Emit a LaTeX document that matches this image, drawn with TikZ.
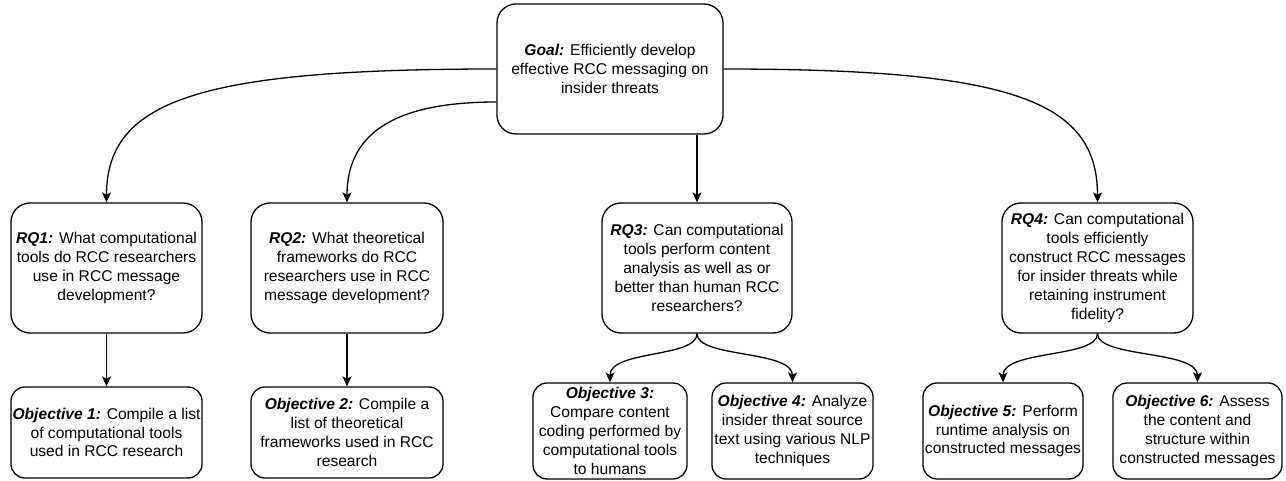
\documentclass[tikz,border=0pt]{standalone}
\usepackage{fontspec}
\setmainfont{Liberation Sans}
\usetikzlibrary{arrows.meta,calc}

% bold italic lead-in word without italic correction
\newcommand{\lbl}[1]{{\bfseries\itshape #1}}

\begin{document}
\begin{tikzpicture}[x=1pt,y=-1pt,
  box/.style={draw, line width=1.3pt, rounded corners=19pt, align=center,
    inner sep=0pt, font=\fontsize{15.6pt}{18.9pt}\selectfont,
    minimum height=130pt},
  objbox/.style={box, rounded corners=14pt},
  arr/.style={line width=1.3pt, -{Stealth[length=10pt,width=9pt,inset=2.5pt]}}
]
\useasboundingbox (0,0) rectangle (1286,481);

% top goal
\node[box, minimum width=226pt] (goal) at (610,69)
  {\lbl{Goal:} Efficiently develop\\effective RCC messaging on\\insider threats};

% research questions
\node[box, minimum width=191pt] (rq1) at (106.5,268)
  {\lbl{RQ1:} What computational\\tools do RCC researchers\\use in RCC message\\development?};
\node[box, minimum width=192pt] (rq2) at (347,268)
  {\lbl{RQ2:} What theoretical\\frameworks do RCC\\researchers use in RCC\\message development?};
\node[box, minimum width=190pt] (rq3) at (697,268)
  {\lbl{RQ3:} Can computational\\tools perform content\\analysis as well as or\\better than human RCC\\researchers?};
\node[box, minimum width=191pt] (rq4) at (1097.5,268)
  {\lbl{RQ4:} Can computational\\tools efficiently\\construct RCC messages\\for insider threats while\\retaining instrument\\fidelity?};

% objectives
\node[objbox, minimum width=191pt, minimum height=91pt] (o1) at (106.5,432.5)
  {\lbl{Objective 1:} Compile a list\\of computational tools\\used in RCC research};
\node[objbox, minimum width=192pt, minimum height=91pt] (o2) at (347,432.5)
  {\lbl{Objective 2:} Compile a\\list of theoretical\\frameworks used in RCC\\research};
\node[objbox, minimum width=154pt, minimum height=96pt] (o3) at (610,431)
  {\lbl{Objective 3:}\\Compare content\\coding performed by\\computational tools\\to humans};
\node[objbox, minimum width=161pt, minimum height=96pt] (o4) at (792.5,431)
  {\lbl{Objective 4:} Analyze\\insider threat source\\text using various NLP\\techniques};
\node[objbox, minimum width=160pt, minimum height=96pt] (o5) at (1003,431)
  {\lbl{Objective 5:} Perform\\runtime analysis on\\constructed messages};
\node[objbox, minimum width=169pt, minimum height=96pt] (o6) at (1197.5,431)
  {\lbl{Objective 6:} Assess\\the content and\\structure within\\constructed messages};

% goal to research questions
\draw[arr] (goal.west) .. controls (200,69) and (106.5,100) .. (rq1.north);
\draw[arr] ([yshift=-33pt]goal.west) .. controls (400,102) and (347,130) .. (rq2.north);
\draw[arr] (rq3.north |- goal.south) -- (rq3.north);
\draw[arr] (goal.east) .. controls (1010,69) and (1097.5,100) .. (rq4.north);

% research questions to objectives
\draw[arr] (rq1.south) -- (o1.north);
\draw[arr] (rq2.south) -- (o2.north);
\draw[arr] (rq3.south) .. controls (697,358) and (610,350) .. (o3.north);
\draw[arr] (rq3.south) .. controls (697,358) and (792.5,350) .. (o4.north);
\draw[arr] (rq4.south) .. controls (1097.5,358) and (1003,350) .. (o5.north);
\draw[arr] (rq4.south) .. controls (1097.5,358) and (1197.5,350) .. (o6.north);
\end{tikzpicture}
\end{document}
